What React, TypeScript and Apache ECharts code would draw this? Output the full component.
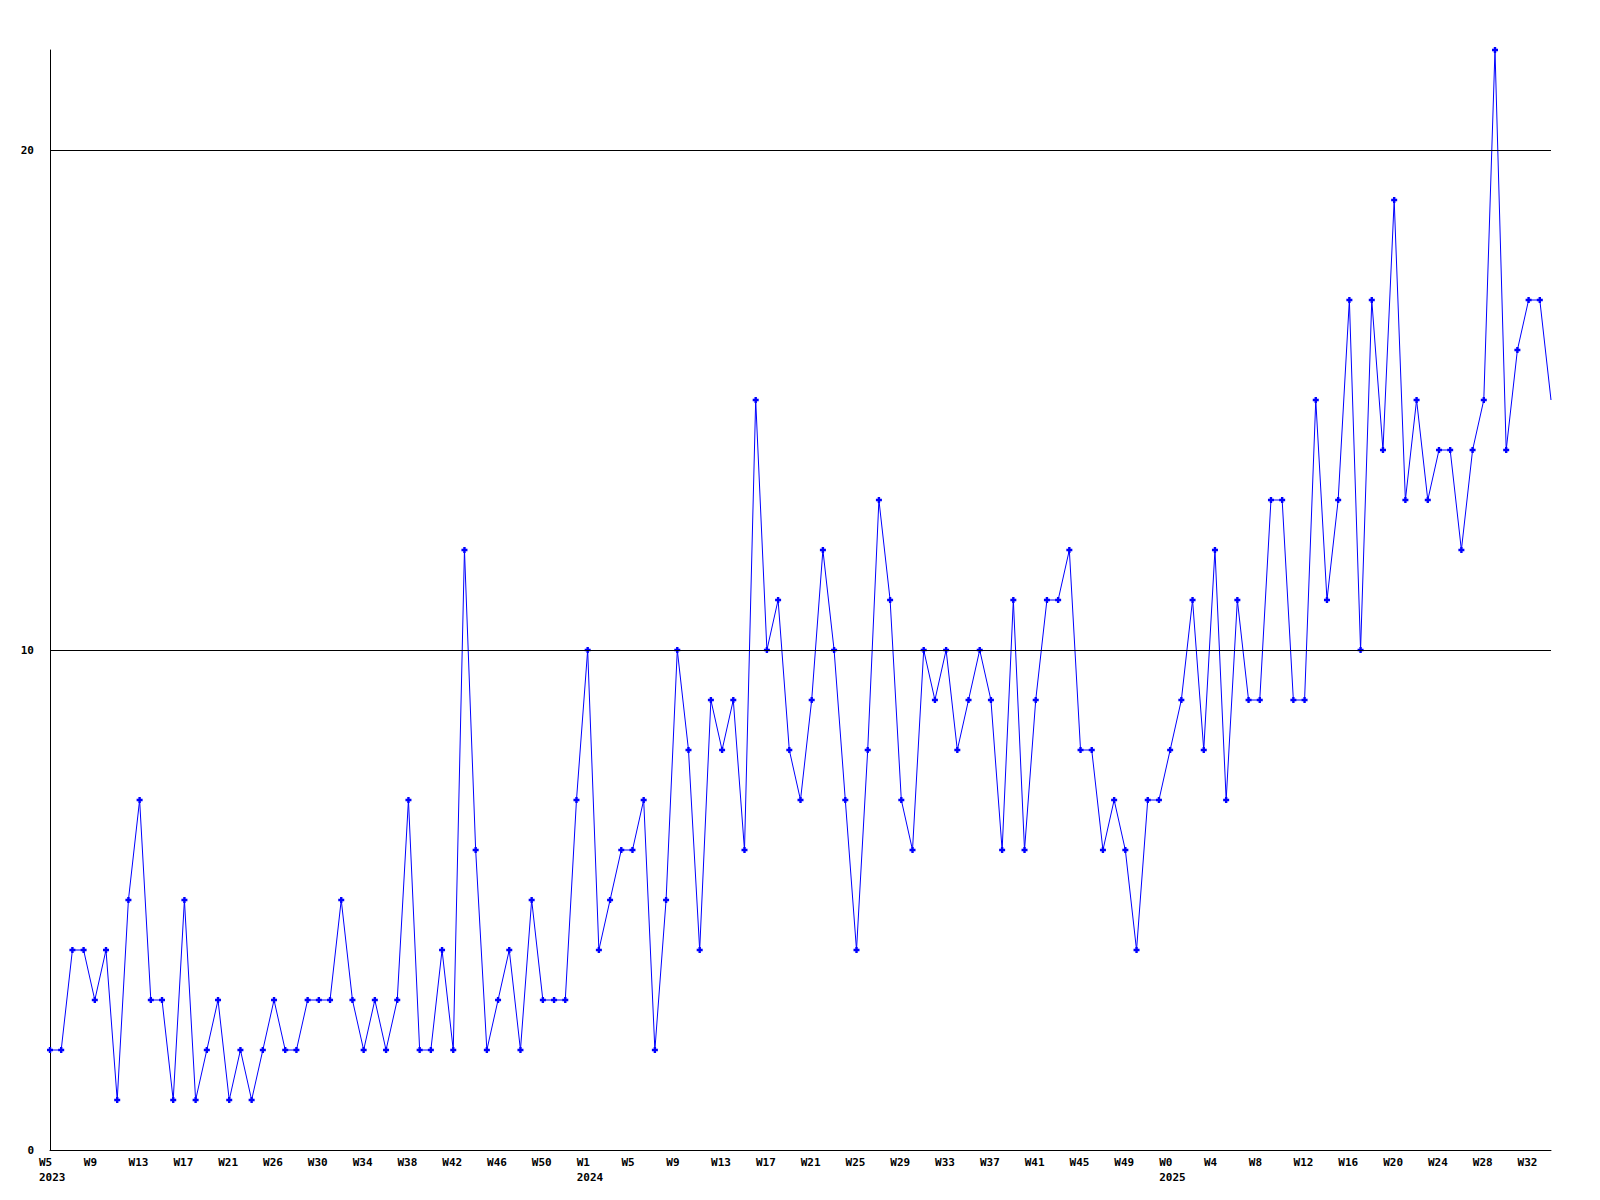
import React, { useEffect, useRef } from "react";
import * as echarts from "echarts";

const weekLabels: string[] = [
  "W5", "W6", "W7", "W8", "W9", "W10", "W11", "W12", "W13", "W14", "W15", "W16", "W17", "W18", "W19", "W20",
  "W21", "W22", "W24", "W25", "W26", "W27", "W28", "W29", "W30", "W31", "W32", "W33", "W34", "W35", "W36", "W37",
  "W38", "W39", "W40", "W41", "W42", "W43", "W44", "W45", "W46", "W47", "W48", "W49", "W50", "W51", "W52", "W53",
  "W1", "W2", "W3", "W4", "W5", "W6", "W7", "W8", "W9", "W10", "W11", "W12", "W13", "W14", "W15", "W16",
  "W17", "W18", "W19", "W20", "W21", "W22", "W23", "W24", "W25", "W26", "W27", "W28", "W29", "W30", "W31", "W32",
  "W33", "W34", "W35", "W36", "W37", "W38", "W39", "W40", "W41", "W42", "W43", "W44", "W45", "W46", "W47", "W48",
  "W49", "W50", "W51", "W52",
  "W0", "W1", "W2", "W3", "W4", "W5", "W6", "W7", "W8", "W9", "W10", "W11", "W12", "W13", "W14", "W15",
  "W16", "W17", "W18", "W19", "W20", "W21", "W22", "W23", "W24", "W25", "W26", "W27", "W28", "W29", "W30", "W31",
  "W32", "W33", "W34",
];

const yearIndex: number[] = [0, 48, 100];
const yearNames: string[] = ["2023", "2024", "2025"];

const values: number[] = [
  2, 2, 4, 4, 3, 4, 1, 5, 7, 3, 3, 1, 5, 1, 2, 3,
  1, 2, 1, 2, 3, 2, 2, 3, 3, 3, 5, 3, 2, 3, 2, 3,
  7, 2, 2, 4, 2, 12, 6, 2, 3, 4, 2, 5, 3, 3, 3, 7,
  10, 4, 5, 6, 6, 7, 2, 5, 10, 8, 4, 9, 8, 9, 6, 15,
  10, 11, 8, 7, 9, 12, 10, 7, 4, 8, 13, 11, 7, 6, 10, 9,
  10, 8, 9, 10, 9, 6, 11, 6, 9, 11, 11, 12, 8, 8, 6, 7,
  6, 4, 7, 7, 8, 9, 11, 8, 12, 7, 11, 9, 9, 13, 13, 9,
  9, 15, 11, 13, 17, 10, 17, 14, 19, 13, 15, 13, 14, 14, 12, 14,
  15, 22, 14, 16, 17, 17, 15,
];

const yTicks: number[] = [10, 20];

const FONT = "'DejaVu Sans Mono', 'Liberation Mono', monospace";

export default function App() {
  const ref = useRef<HTMLDivElement>(null);

  useEffect(() => {
    if (!ref.current) return;
    const chart = echarts.init(ref.current, null, { renderer: "svg" });
    const seriesData = values.map((v, i) =>
      i === values.length - 1 ? { value: v, symbol: "none" } : v
    );
    const labelStyle = {
      width: 22,
      align: "left",
      color: "#000000",
      fontFamily: FONT,
      fontWeight: "bold",
      fontSize: 11,
      lineHeight: 15,
    };
    chart.setOption({
      animation: false,
      backgroundColor: "#ffffff",
      grid: { left: 50, right: 49, top: 50, bottom: 50, containLabel: false },
      xAxis: {
        type: "category",
        data: weekLabels,
        boundaryGap: false,
        axisLine: { show: true, lineStyle: { color: "#000000", width: 1 } },
        axisTick: { show: false },
        splitLine: { show: false },
        axisLabel: {
          interval: 3,
          margin: 5,
          color: "#000000",
          fontFamily: FONT,
          fontWeight: "bold",
          fontSize: 11,
          lineHeight: 15,
          align: "center",
          rich: { w: labelStyle, y: labelStyle },
          formatter: (val: string, idx: number) => {
            const k = yearIndex.indexOf(idx);
            return k >= 0 ? "{w|" + val + "}\n{y|" + yearNames[k] + "}" : "{w|" + val + "}";
          },
        },
      },
      yAxis: {
        type: "value",
        min: 0,
        max: 22,
        interval: 10,
        axisLine: { show: true, lineStyle: { color: "#000000", width: 1 } },
        axisTick: { show: false },
        splitLine: { show: false },
        axisLabel: {
          margin: 16,
          color: "#000000",
          fontFamily: FONT,
          fontWeight: "bold",
          fontSize: 11,
          formatter: (v: number) => (v % 10 === 0 ? String(v) : ""),
        },
      },
      series: [
        {
          type: "line",
          data: seriesData,
          symbol: "path://M1.5,0H3.5V1.5H5V3.5H3.5V5H1.5V3.5H0V1.5H1.5Z",
          symbolSize: 6,
          showAllSymbol: true,
          lineStyle: { color: "#0000ff", width: 1 },
          itemStyle: { color: "#0000ff" },
          markLine: {
            silent: true,
            symbol: "none",
            label: { show: false },
            lineStyle: { color: "#000000", width: 1, type: "solid" },
            data: yTicks.map((t) => ({ yAxis: t })),
          },
          z: 3,
        },
      ],
    });
    return () => chart.dispose();
  }, []);

  return (
    <div
      ref={ref}
      style={{ position: "absolute", left: 0, top: 0, width: 1600, height: 1200 }}
    />
  );
}
